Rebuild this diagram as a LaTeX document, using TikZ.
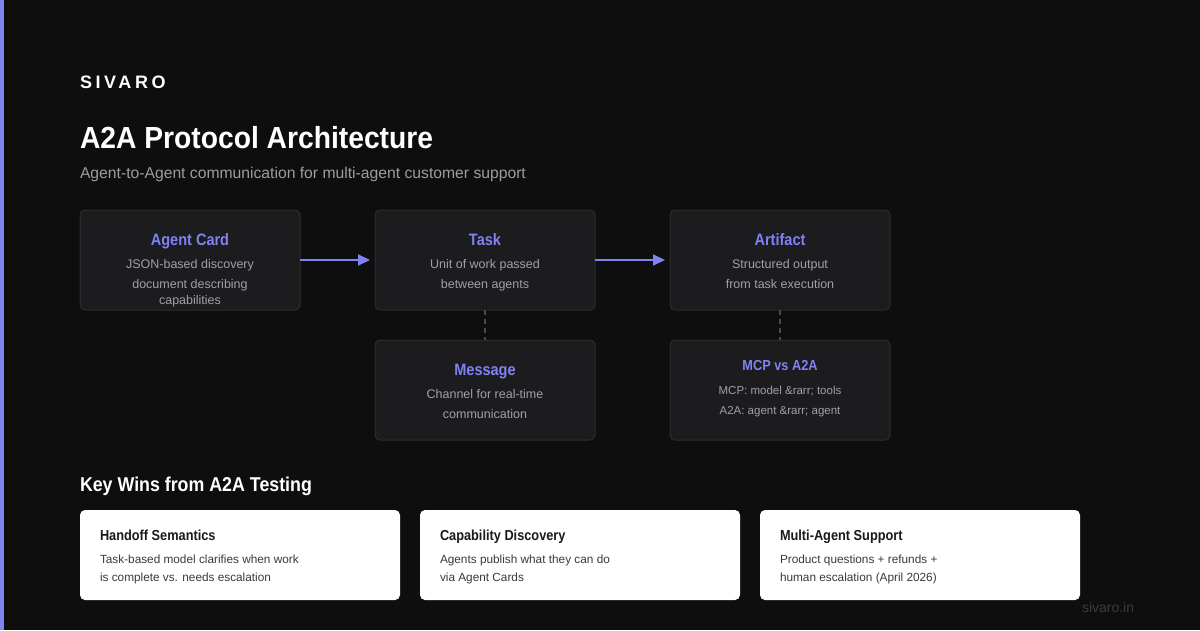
\documentclass[tikz,border=0pt]{standalone}
\usepackage{fontspec}
\setmainfont{Liberation Sans}
\newfontfamily\condfont[FakeStretch=0.88]{Liberation Sans}
\newfontfamily\titlefont[FakeStretch=0.926]{Liberation Sans}
\newfontfamily\headfont[FakeStretch=0.89]{Liberation Sans}
\usetikzlibrary{arrows.meta}
\definecolor{bg}{HTML}{0E0E0F}
\definecolor{accent}{HTML}{7F83F2}
\definecolor{boxfill}{HTML}{1C1C1F}
\definecolor{boxline}{HTML}{2D2D31}
\definecolor{desc}{HTML}{A0A0A8}
\definecolor{subt}{HTML}{9C9CA4}
\definecolor{dashc}{HTML}{4A4A4E}
\definecolor{cardtitle}{HTML}{1A1A1A}
\definecolor{carddesc}{HTML}{3A3A3A}
\definecolor{foot}{HTML}{3C3C40}
\tikzset{
  darkbox/.style={draw=boxline, line width=1pt, fill=boxfill, rounded corners=5pt},
  card/.style={fill=white, rounded corners=5pt},
  txt/.style={inner sep=0pt, outer sep=0pt},
  boxtitle/.style={txt, anchor=base, text=accent, font=\condfont\bfseries\fontsize{16.5}{18}\selectfont},
  boxdesc/.style={txt, anchor=base, text=desc, font=\fontsize{12.5}{14}\selectfont},
  cardhead/.style={txt, anchor=base west, text=cardtitle, font=\condfont\bfseries\fontsize{14.5}{16}\selectfont},
  carddesc/.style={txt, anchor=base west, text=carddesc, font=\fontsize{11.8}{14}\selectfont},
  flow/.style={draw=accent, line width=2pt, -{Triangle[length=12pt,width=11pt]}},
  link/.style={draw=dashc, line width=1.5pt, dash pattern=on 5pt off 4pt},
}
\begin{document}
\begin{tikzpicture}[x=1pt,y=-1pt]
\path[fill=bg] (0,0) rectangle (1200,630);
\fill[accent] (0,0) rectangle (4,630);

% header
\node[txt, anchor=base west, text=white, font=\bfseries\fontsize{18}{20}\selectfont\addfontfeature{LetterSpace=20}] (brand) at (80,88) {SIVARO};
\node[txt, anchor=base west, text=white, font=\titlefont\bfseries\fontsize{30.5}{34}\selectfont] (title) at (80,148) {A2A Protocol Architecture};
\node[txt, anchor=base west, text=subt, font=\fontsize{15.7}{17}\selectfont] (sub) at (80,178) {Agent-to-Agent communication for multi-agent customer support};

% dark boxes
\path[darkbox] (80,210) rectangle (300,310); \coordinate (cardE) at (300,260);
\path[darkbox] (375,210) rectangle (595,310);
\path[darkbox] (670,210) rectangle (890,310);
\path[darkbox] (375,340) rectangle (595,440);
\path[darkbox] (670,340) rectangle (890,440);

\coordinate (taskW) at (370,260);
\coordinate (taskE) at (595,260);
\coordinate (artW) at (665,260);
\coordinate (taskS) at (485,310);
\coordinate (msgN) at (485,340);
\coordinate (artS) at (780,310);
\coordinate (mcpN) at (780,340);

\node[boxtitle] (cardT) at (190,245) {Agent Card};
\node[boxdesc] (cardD1) at (190,268) {JSON-based discovery};
\node[boxdesc] (cardD2) at (190,288) {document describing};
\node[boxdesc] (cardD3) at (190,304) {capabilities};

\node[boxtitle] (taskT) at (485,245) {Task};
\node[boxdesc] (taskD1) at (485,268) {Unit of work passed};
\node[boxdesc] (taskD2) at (485,288) {between agents};

\node[boxtitle] (artT) at (780,245) {Artifact};
\node[boxdesc] (artD1) at (780,268) {Structured output};
\node[boxdesc] (artD2) at (780,288) {from task execution};

\node[boxtitle] (msgT) at (485,375) {Message};
\node[boxdesc] (msgD1) at (485,398) {Channel for real-time};
\node[boxdesc] (msgD2) at (485,418) {communication};

\node[boxtitle, font=\condfont\bfseries\fontsize{14.5}{16}\selectfont] (mcpT) at (780,370) {MCP vs A2A};
\node[boxdesc, font=\fontsize{11.5}{13}\selectfont] (mcpD1) at (780,394) {MCP: model \&rarr; tools};
\node[boxdesc, font=\fontsize{11.5}{13}\selectfont] (mcpD2) at (780,414) {A2A: agent \&rarr; agent};

% connectors
\draw[flow] (cardE) -- (taskW);
\draw[flow] (taskE) -- (artW);
\draw[link] (taskS) -- (msgN);
\draw[link] (artS) -- (mcpN);

% key wins
\node[txt, anchor=base west, text=white, font=\headfont\bfseries\fontsize{20}{24}\selectfont] (kw) at (80,491) {Key Wins from A2A Testing};

\path[card] (80,510) rectangle (400,600);
\path[card] (420,510) rectangle (740,600);
\path[card] (760,510) rectangle (1080,600);

\node[cardhead] (h1) at (100,540) {Handoff Semantics};
\node[carddesc] (h1a) at (100,563) {Task-based model clarifies when work};
\node[carddesc] (h1b) at (100,581) {is complete vs. needs escalation};

\node[cardhead] (h2) at (440,540) {Capability Discovery};
\node[carddesc] (h2a) at (440,563) {Agents publish what they can do};
\node[carddesc] (h2b) at (440,581) {via Agent Cards};

\node[cardhead] (h3) at (780,540) {Multi-Agent Support};
\node[carddesc] (h3a) at (780,563) {Product questions + refunds +};
\node[carddesc] (h3b) at (780,581) {human escalation (April 2026)};

\node[txt, anchor=base west, text=foot, font=\fontsize{14}{15}\selectfont] (footer) at (1082,612) {sivaro.in};
\end{tikzpicture}
\end{document}
